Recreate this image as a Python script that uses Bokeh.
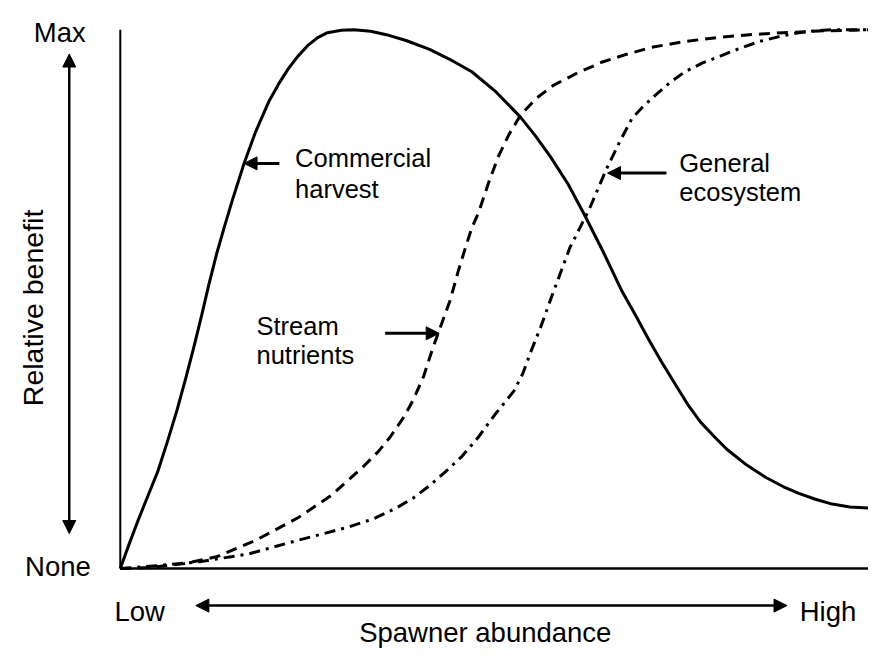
from bokeh.plotting import figure
from bokeh.models import Range1d, Arrow, NormalHead, Label
from bokeh.embed import file_html
from bokeh.resources import INLINE
import math

# ---- data (spawner abundance 0..100, relative benefit 0..1) ----
harvest_x = [0, 1.18, 2.36, 3.67, 4.99, 6.30, 7.61, 8.79, 9.84, 10.89,
             11.81, 12.86, 13.91, 14.96, 16.54, 18.11, 19.82, 21.13, 22.44, 23.75,
             25.07, 26.38, 27.69, 29.53, 31.23, 33.46, 35.56, 38.19, 41.34, 43.96,
             46.98, 50.26, 53.54, 55.51, 57.48, 59.84, 62.07, 64.57, 67.06, 68.90,
             70.60, 72.31, 74.15, 75.85, 77.56, 79.40, 81.10, 83.73, 86.35, 88.58,
             90.68, 92.91, 95.14, 97.51, 100]
harvest_y = [0, 0.0453, 0.0888, 0.1341, 0.1793, 0.2355, 0.2953, 0.3551, 0.4112, 0.4710,
             0.5254, 0.5833, 0.6341, 0.6830, 0.7518, 0.8116, 0.8659, 0.8986, 0.9275, 0.9511,
             0.9710, 0.9855, 0.9946, 0.9991, 1.0, 0.9973, 0.9909, 0.9801, 0.9638, 0.9457,
             0.9221, 0.8841, 0.8370, 0.8025, 0.7645, 0.7138, 0.6558, 0.5870, 0.5145, 0.4692,
             0.4257, 0.3841, 0.3424, 0.3043, 0.2717, 0.2446, 0.2210, 0.1920, 0.1685, 0.1522,
             0.1395, 0.1286, 0.1196, 0.1141, 0.1123]

nutrients_x = [0, 3.67, 8.53, 12.86, 18.11, 23.75, 28.22, 32.55, 34.51, 36.09,
               37.80, 39.11, 40.55, 41.73, 42.91, 44.09, 45.14, 46.06, 46.98, 47.90,
               49.21, 50.52, 51.97, 53.54, 55.64, 57.87, 61.15, 64.44, 67.72, 71.00,
               75.46, 79.79, 84.12, 88.58, 94.23, 100]
nutrients_y = [0, 0.0018, 0.0091, 0.0217, 0.0525, 0.0942, 0.1359, 0.1902, 0.2174, 0.2446,
               0.2790, 0.3116, 0.3569, 0.4076, 0.4529, 0.4982, 0.5507, 0.5924, 0.6323, 0.6612,
               0.7156, 0.7645, 0.8062, 0.8424, 0.8732, 0.8967, 0.9203, 0.9402, 0.9547, 0.9674,
               0.9783, 0.9855, 0.9909, 0.9946, 0.9982, 1.0]

ecosystem_x = [0, 4.99, 10.63, 17.19, 23.75, 30.31, 33.86, 36.88, 39.11, 41.34,
               43.44, 45.67, 47.90, 50.0, 52.62, 53.81, 54.86, 56.17, 57.48, 58.79,
               60.10, 61.42, 62.73, 63.78, 64.96, 66.67, 68.37, 69.95, 71.52, 73.49,
               75.46, 77.82, 80.18, 82.81, 85.43, 88.06, 90.68, 92.91, 95.14, 100]
ecosystem_y = [0, 0.0054, 0.0127, 0.0272, 0.0525, 0.0761, 0.0924, 0.1123, 0.1304, 0.1540,
               0.1793, 0.2083, 0.2446, 0.2844, 0.3297, 0.3623, 0.4022, 0.4475, 0.4982, 0.5471,
               0.5960, 0.6322, 0.6685, 0.7029, 0.7409, 0.7899, 0.8351, 0.8587, 0.8786, 0.9022,
               0.9221, 0.9384, 0.9511, 0.9656, 0.9783, 0.9873, 0.9946, 0.9982, 1.0, 1.0]

y_labels = ["None", "Max"]
x_labels = ["Low", "High"]
x_title = "Spawner abundance"
y_title = "Relative benefit"

FONT = "Liberation Sans"

p = figure(width=868, height=650, output_backend="svg", toolbar_location=None,
           x_range=Range1d(-16.01, 100.0), y_range=Range1d(-0.15217, 1.05435),
           x_axis_type=None, y_axis_type=None, min_border=0)
p.outline_line_color = None
p.grid.visible = False
p.background_fill_color = "white"
p.border_fill_color = "white"

# axes lines
p.line([0, 0], [0, 1], line_color="black", line_width=2)
p.line([0, 100], [0, 0], line_color="black", line_width=2.5)

# curves
p.line(harvest_x, harvest_y, line_color="black", line_width=3, line_join="round")
p.line(nutrients_x, nutrients_y, line_color="black", line_width=3, line_dash="11 7")
p.line(ecosystem_x, ecosystem_y, line_color="black", line_width=3, line_dash="11 6 3 6")

def head():
    return NormalHead(size=13, fill_color="black", line_color="black", line_width=1)

# axis double arrows
p.add_layout(Arrow(start=head(), end=head(), x_start=-6.82, y_start=0.065,
                   x_end=-6.82, y_end=0.955, line_width=2.5, line_color="black"))
p.add_layout(Arrow(start=head(), end=head(), x_start=10.10, y_start=-0.0688,
                   x_end=89.11, y_end=-0.0688, line_width=2.5, line_color="black"))

# annotation arrows
p.add_layout(Arrow(end=head(), x_start=21.26, y_start=0.752, x_end=16.54, y_end=0.752,
                   line_width=3, line_color="black"))
p.add_layout(Arrow(end=head(), x_start=35.40, y_start=0.4366, x_end=42.62, y_end=0.4366,
                   line_width=3, line_color="black"))
p.add_layout(Arrow(end=head(), x_start=73.0, y_start=0.734, x_end=65.12, y_end=0.734,
                   line_width=3, line_color="black"))

def lab(x, y, t, size, align="left", angle=0.0):
    p.add_layout(Label(x=x, y=y, text=t, text_font=FONT, text_font_size=f"{size}px",
                       text_color="black", text_align=align, text_baseline="alphabetic",
                       angle=angle))

# axis labels
lab(-11.55, 0.9958, y_labels[1], 27.5)
lab(-12.73, 0.0036, y_labels[0], 27.5)
lab(-0.79, -0.0797, x_labels[0], 27.5)
lab(90.81, -0.0797, x_labels[1], 27.5)
lab(48.78, -0.1188, x_title, 27.5, align="center")
lab(-11.68, 0.4837, y_title, 28.5, align="center", angle=math.pi / 2)

# annotations
lab(23.36, 0.7614, "Commercial", 25.5)
lab(23.36, 0.7042, "harvest", 25.5)
lab(18.20, 0.4505, "Stream", 25.5)
lab(18.20, 0.3962, "nutrients", 25.5)
lab(74.71, 0.7524, "General", 25.5)
lab(74.71, 0.6980, "ecosystem", 25.5)

open("out.html", "w").write(file_html(p, INLINE))
